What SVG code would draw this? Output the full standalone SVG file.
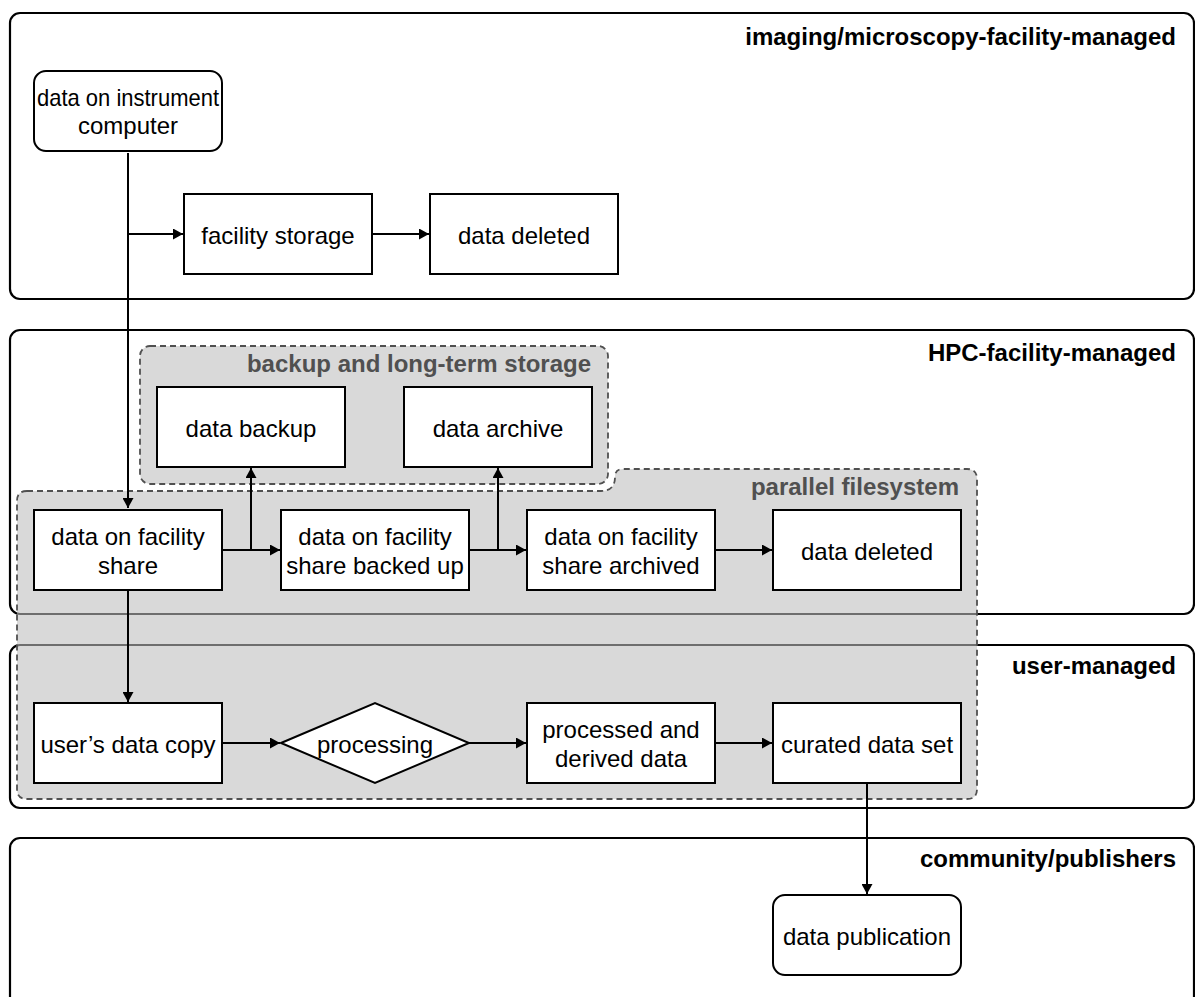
<svg xmlns="http://www.w3.org/2000/svg" width="1195" height="997" viewBox="0 0 1195 997">
  <style>
    text { font-family: "Liberation Sans", Arial, Helvetica, sans-serif; font-size: 24px; fill: #000; }
    .lane { fill: #fff; stroke: #000; stroke-width: 2.2; }
    .lane-title { font-weight: bold; text-anchor: end; }
    .group { fill: #bdbdbd; fill-opacity: 0.58; stroke: #505050; stroke-width: 1.8; stroke-dasharray: 6 4; }
    .group-title { font-weight: bold; text-anchor: end; fill: #505050; }
    .box { fill: #fff; stroke: #000; stroke-width: 2; }
    .label { text-anchor: middle; }
    .edge { fill: none; stroke: #000; stroke-width: 2; marker-end: url(#arrow); }
  </style>
  <defs>
    <marker id="arrow" viewBox="0 0 10 11" refX="10" refY="5.5" markerWidth="10" markerHeight="11" markerUnits="userSpaceOnUse" orient="auto">
      <path d="M0,0 L10,5.5 L0,11 z" fill="#000"/>
    </marker>
  </defs>

  <rect width="1195" height="997" fill="#fff"/>

  <!-- swimlanes -->
  <g id="lane-imaging">
    <rect class="lane" x="10" y="13" width="1184" height="286" rx="10"/>
    <text class="lane-title" x="1176" y="45">imaging/microscopy-facility-managed</text>
  </g>
  <g id="lane-hpc">
    <rect class="lane" x="10" y="330" width="1184" height="284" rx="10"/>
    <text class="lane-title" x="1176" y="361">HPC-facility-managed</text>
  </g>
  <g id="lane-user">
    <rect class="lane" x="10" y="645" width="1184" height="163" rx="10"/>
    <text class="lane-title" x="1176" y="674">user-managed</text>
  </g>
  <g id="lane-community">
    <rect class="lane" x="10" y="838" width="1184" height="180" rx="10"/>
    <text class="lane-title" x="1176" y="867">community/publishers</text>
  </g>

  <!-- storage groups -->
  <g id="group-parallel-filesystem">
    <path class="group" d="M27,491 H601 Q615,491 615,477 Q615,469 623,469 H967 Q977,469 977,479 V789 Q977,799 967,799 H27 Q17,799 17,789 V501 Q17,491 27,491 Z"/>
    <text class="group-title" x="959" y="495">parallel filesystem</text>
  </g>
  <g id="group-backup">
    <rect class="group" x="140" y="346" width="468" height="138" rx="10"/>
    <text class="group-title" x="591" y="372">backup and long-term storage</text>
  </g>

  <!-- nodes -->
  <g id="node-instrument">
    <rect class="box" x="34" y="71" width="188" height="80" rx="12"/>
    <text class="label" x="128" y="106" textLength="182" lengthAdjust="spacingAndGlyphs">data on instrument</text>
    <text class="label" x="128" y="134">computer</text>
  </g>
  <g id="node-facility-storage">
    <rect class="box" x="184" y="194" width="188" height="80"/>
    <text class="label" x="278" y="243.5">facility storage</text>
  </g>
  <g id="node-facility-deleted">
    <rect class="box" x="430" y="194" width="188" height="80"/>
    <text class="label" x="524" y="243.5">data deleted</text>
  </g>

  <g id="node-data-backup">
    <rect class="box" x="157" y="387" width="188" height="80"/>
    <text class="label" x="251" y="436.5">data backup</text>
  </g>
  <g id="node-data-archive">
    <rect class="box" x="404" y="387" width="188" height="80"/>
    <text class="label" x="498" y="436.5">data archive</text>
  </g>

  <g id="node-facility-share">
    <rect class="box" x="34" y="510" width="188" height="80"/>
    <text class="label" x="128" y="545">data on facility</text>
    <text class="label" x="128" y="574">share</text>
  </g>
  <g id="node-share-backed-up">
    <rect class="box" x="281" y="510" width="188" height="80"/>
    <text class="label" x="375" y="545">data on facility</text>
    <text class="label" x="375" y="574">share backed up</text>
  </g>
  <g id="node-share-archived">
    <rect class="box" x="527" y="510" width="188" height="80"/>
    <text class="label" x="621" y="545">data on facility</text>
    <text class="label" x="621" y="574">share archived</text>
  </g>
  <g id="node-share-deleted">
    <rect class="box" x="773" y="510" width="188" height="80"/>
    <text class="label" x="867" y="559.5">data deleted</text>
  </g>

  <g id="node-user-copy">
    <rect class="box" x="34" y="703" width="188" height="80"/>
    <text class="label" x="128" y="752.5">user’s data copy</text>
  </g>
  <g id="node-processing">
    <polygon class="box" points="281,743 375,703 469,743 375,783"/>
    <text class="label" x="375" y="752.5">processing</text>
  </g>
  <g id="node-processed">
    <rect class="box" x="527" y="703" width="188" height="80"/>
    <text class="label" x="621" y="738">processed and</text>
    <text class="label" x="621" y="767">derived data</text>
  </g>
  <g id="node-curated">
    <rect class="box" x="773" y="703" width="188" height="80"/>
    <text class="label" x="867" y="752.5">curated data set</text>
  </g>

  <g id="node-publication">
    <rect class="box" x="773" y="895" width="188" height="80" rx="12"/>
    <text class="label" x="867" y="944.5">data publication</text>
  </g>

  <!-- connectors -->
  <g id="connectors">
    <path class="edge" d="M128,153 V508"/>
    <path class="edge" d="M128,234 H183"/>
    <path class="edge" d="M372,234 H429"/>
    <path class="edge" d="M222,550 H280"/>
    <path class="edge" d="M251,550 V468"/>
    <path class="edge" d="M469,550 H526"/>
    <path class="edge" d="M498,550 V468"/>
    <path class="edge" d="M715,550 H772"/>
    <path class="edge" d="M128,590 V702"/>
    <path class="edge" d="M222,743 H280"/>
    <path class="edge" d="M469,743 H526"/>
    <path class="edge" d="M715,743 H772"/>
    <path class="edge" d="M867,783 V894"/>
  </g>
</svg>
